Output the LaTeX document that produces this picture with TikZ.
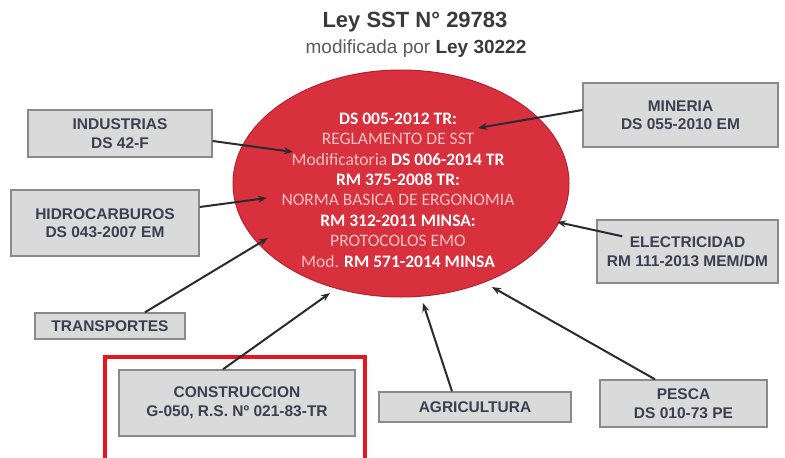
\documentclass[tikz,border=0pt]{standalone}
\usepackage{fontspec}
\setmainfont{Liberation Sans}
\newfontfamily\calib{Carlito}
\usetikzlibrary{arrows.meta,shapes.geometric}
\definecolor{boxfill}{HTML}{DADADA}
\definecolor{boxline}{HTML}{8A8A8A}
\definecolor{boxtext}{HTML}{3A4052}
\definecolor{ellfill}{HTML}{D8303C}
\definecolor{elledge}{HTML}{B42232}
\definecolor{pinktext}{HTML}{F6C4C4}
\definecolor{arrowc}{HTML}{2A2A33}
\definecolor{frame}{HTML}{E8141E}
\definecolor{titlec}{HTML}{3A3A3A}
\definecolor{subc}{HTML}{5A5A5A}
\tikzset{
  sector/.style={draw=boxline, line width=1.4pt, fill=boxfill, text=boxtext,
    font=\fontsize{15.5}{18.5}\selectfont\bfseries, align=center, inner sep=0pt},
  link/.style={draw=arrowc, line width=2pt, -{Stealth[length=9pt,width=7pt]}}
}
\begin{document}
\begin{tikzpicture}[x=1pt,y=-1pt]
\useasboundingbox (0,0) rectangle (785,458);
\fill[white] (0,0) rectangle (785,458);
% title
\node[text=titlec, font=\fontsize{22}{26}\selectfont\bfseries] (title) at (415,22) {Ley SST N° 29783};
\node[text=subc, font=\fontsize{19}{22}\selectfont] (sub) at (416,49) {modificada por \textbf{\color{titlec}Ley 30222}};
% ellipse
\node[ellipse, draw=elledge, line width=1pt, fill=ellfill, minimum width=336pt, minimum height=227pt] (ell) at (401,183.5) {};
\node[align=center, font=\calib\fontsize{17.5}{20.4}\selectfont, text=pinktext] (ltxt) at (398,190) {%
{\bfseries\color{white}DS 005-2012 TR:}\\
REGLAMENTO DE SST\\
Modificatoria {\bfseries\color{white}DS 006-2014 TR}\\
{\bfseries\color{white}RM 375-2008 TR:}\\
NORMA BASICA DE ERGONOMIA\\
{\bfseries\color{white}RM 312-2011 MINSA:}\\
PROTOCOLOS EMO\\
Mod. {\bfseries\color{white}RM 571-2014 MINSA}};
% sector boxes
\node[sector, minimum width=184pt, minimum height=47pt] (ind) at (120,133.5) {INDUSTRIAS\\DS 42-F};
\node[sector, minimum width=188pt, minimum height=66pt] (hid) at (105,223) {HIDROCARBUROS\\DS 043-2007 EM};
\node[sector, minimum width=150pt, minimum height=26pt] (tra) at (110,326) {TRANSPORTES};
\node[sector, minimum width=195pt, minimum height=64pt] (min) at (680.5,115) {MINERIA\\DS 055-2010 EM};
\node[sector, minimum width=181pt, minimum height=63pt] (ele) at (687.5,251.5) {ELECTRICIDAD\\RM 111-2013 MEM/DM};
\node[sector, minimum width=236pt, minimum height=66pt] (con) at (237,403) {CONSTRUCCION\\G-050, R.S. Nº 021-83-TR};
\node[sector, minimum width=192pt, minimum height=30pt] (agr) at (475,407) {AGRICULTURA};
\node[sector, minimum width=167pt, minimum height=47pt] (pes) at (683.5,403.5) {PESCA\\DS 010-73 PE};
% highlight frame
\draw[frame, line width=4pt] (105,357) rectangle (365,462);
% arrow tips inside ellipse
\coordinate (tind) at (293,152);
\coordinate (thid) at (267,198);
\coordinate (ttra) at (268,238);
\coordinate (tmin) at (478,128);
\coordinate (tele) at (557,222);
\coordinate (tcon) at (330,293);
\coordinate (tagr) at (423,303);
\coordinate (tpes) at (492,287);
\draw[link] ([yshift=-7.5pt]ind.east) -- (tind);
\draw[link] ([yshift=16pt]hid.east) -- (thid);
\draw[link] ([xshift=35pt]tra.north) -- (ttra);
\draw[link] ([yshift=5pt]min.west) -- (tmin);
\draw[link] ([xshift=26pt,yshift=-17pt]ele.north west) -- (tele);
\draw[link] ([xshift=-14pt]con.north) -- (tcon);
\draw[link] ([xshift=-23pt]agr.north) -- (tagr);
\draw[link] ([xshift=-28.5pt]pes.north) -- (tpes);
\end{tikzpicture}
\end{document}
